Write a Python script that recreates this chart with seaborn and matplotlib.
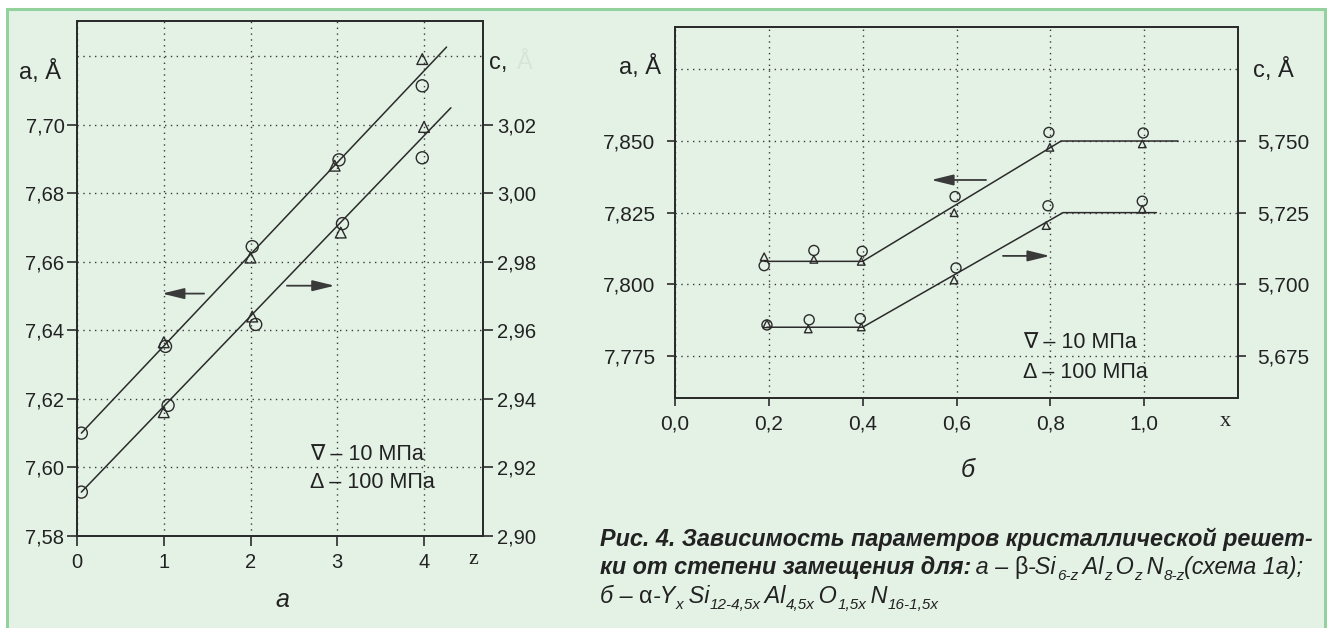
import matplotlib
matplotlib.use("Agg")
import matplotlib.pyplot as plt
import matplotlib.ticker as mticker
from matplotlib.patches import Rectangle
import seaborn as sns

# ---------------- data: chart "а" (β-SiAlON, vs z) ----------------
z_a_circ = [0.05, 1.02, 2.02, 3.02, 3.98]
a_circ_left = [7.610, 7.6353, 7.6644, 7.6897, 7.7113]
z_a_tri = [1.00, 2.00, 2.97, 3.98]
a_tri_left = [7.6365, 7.6612, 7.6880, 7.7191]
z_c_circ = [0.05, 1.05, 2.06, 3.06, 3.98]
c_circ_left = [2.9128, 2.9381, 2.9617, 2.9911, 3.0103]
z_c_tri = [1.00, 2.02, 3.04, 4.00]
c_tri_left = [2.9361, 2.9640, 2.9885, 3.0193]
a_fit_z = [0.05, 4.26]
a_fit_left = [7.610, 7.7226]
c_fit_z = [0.05, 4.31]
c_fit_left = [2.9128, 3.0249]
left_xticks = [0, 1, 2, 3, 4]
left_a_ticks = [7.58, 7.60, 7.62, 7.64, 7.66, 7.68, 7.70]
left_c_ticks = [2.90, 2.92, 2.94, 2.96, 2.98, 3.00, 3.02]

# ---------------- data: chart "б" (α-SiAlON, vs x) ----------------
x_a_circ = [0.19, 0.296, 0.399, 0.597, 0.797, 0.998]
a_circ_right = [7.8065, 7.8118, 7.8115, 7.8306, 7.8530, 7.8528]
x_a_tri = [0.19, 0.296, 0.397, 0.595, 0.799, 0.996]
a_tri_right = [7.8096, 7.8087, 7.8080, 7.8250, 7.8478, 7.8490]
x_c_circ = [0.196, 0.286, 0.395, 0.599, 0.795, 0.996]
c_circ_right = [5.6858, 5.6876, 5.6880, 5.7057, 5.7274, 5.7290]
x_c_tri = [0.196, 0.284, 0.397, 0.595, 0.791, 0.996]
c_tri_right = [5.6862, 5.6844, 5.6851, 5.7015, 5.7205, 5.7262]
a_fit_x = [0.19, 0.40, 0.823, 1.072]
a_fit_right = [7.808, 7.808, 7.850, 7.850]
c_fit_x = [0.196, 0.40, 0.827, 1.026]
c_fit_right = [5.685, 5.685, 5.725, 5.725]
right_xticks = [0.0, 0.2, 0.4, 0.6, 0.8, 1.0]
right_a_ticks = [7.775, 7.800, 7.825, 7.850]
right_c_ticks = [5.675, 5.700, 5.725, 5.750]

W, H = 1327, 628
PANEL = "#e4f2e6"
BORDER = "#93d19d"
DARK = "#2b2b2b"
FONT = ["Liberation Sans", "DejaVu Sans"]
SERIF = ["Liberation Serif", "DejaVu Serif"]

sns.set_theme(style="white")
plt.rcParams["font.family"] = FONT
plt.rcParams["axes.unicode_minus"] = False

fig = plt.figure(figsize=(W / 100, H / 100), dpi=100)
fig.patch.set_facecolor("white")
fig.patches.append(Rectangle((7 / W, -0.05), (1325 - 7) / W, 1 - 9 / H + 0.05,
                             transform=fig.transFigure, facecolor=PANEL,
                             edgecolor=BORDER, lw=2.2, zorder=-5))


def px(x, y):
    return x / W, 1 - y / H


def comma(dec):
    return mticker.FuncFormatter(lambda v, p: f"{v:.{dec}f}".replace(".", ","))


def style_axes(ax):
    ax.set_facecolor("none")
    for s in ax.spines.values():
        s.set_color(DARK)
        s.set_linewidth(1.3)
        s.set_visible(True)


def pts(ax, x, y, marker, s):
    sns.scatterplot(x=x, y=y, ax=ax, marker=marker, s=s, facecolors="none",
                    edgecolor=DARK, color=DARK, linewidth=1.0, zorder=4)


def fit(ax, x, y):
    sns.lineplot(x=x, y=y, ax=ax, color=DARK, lw=1.1, sort=False,
                 estimator=None, zorder=3)


def arrow(ax, x0, x1, y):
    ax.annotate("", xy=(x1, y), xytext=(x0, y),
                arrowprops=dict(arrowstyle="-|>,head_length=0.9,head_width=0.22",
                                mutation_scale=15, lw=1.3, color="#3a3a3a",
                                shrinkA=0, shrinkB=0))


grid_kw = dict(color="#3a3a3a", linestyle=(0, (1, 3.2)), lw=1.0)

# =================== chart а ===================
ax1 = fig.add_axes([77 / W, 1 - 536 / H, (483 - 77) / W, (536 - 21) / H])
style_axes(ax1)
ax1.set_xlim(0, 4.68)
ax1.set_ylim(7.58, 7.7302)
ax1.set_xticks(left_xticks)
ax1.set_yticks(left_a_ticks)
ax1.set_yticks([7.72], minor=True)
ax1.yaxis.set_major_formatter(comma(2))
ax1.grid(True, which="major", **grid_kw)
ax1.grid(True, which="minor", axis="y", **grid_kw)
ax1.tick_params(which="major", direction="out", length=7, width=1.2, color=DARK,
                labelsize=14.5, labelcolor="#222", pad=2, left=True, bottom=True)
ax1.tick_params(axis="x", pad=5)
ax1.tick_params(which="minor", length=0)
ax1.set_axisbelow(True)

ax1r = ax1.twinx()
style_axes(ax1r)
ax1r.set_ylim(2.90, 3.0502)
ax1r.set_yticks(left_c_ticks)
ax1r.yaxis.set_major_formatter(comma(2))
ax1r.grid(False)
ax1r.tick_params(direction="out", length=7, width=1.2, color=DARK, labelsize=14.5,
                 labelcolor="#222", pad=3, right=True)

fit(ax1, a_fit_z, a_fit_left)
fit(ax1r, c_fit_z, c_fit_left)
pts(ax1, z_a_circ, a_circ_left, "o", 75)
pts(ax1, z_a_tri, a_tri_left, "^", 60)
pts(ax1r, z_c_circ, c_circ_left, "o", 75)
pts(ax1r, z_c_tri, c_tri_left, "^", 60)
arrow(ax1, 1.465, 0.98, 7.6507)
arrow(ax1, 2.42, 2.97, 7.6530)
for a in (ax1, ax1r):
    a.set_xlabel("")
    a.set_ylabel("")

# =================== chart б ===================
ax2 = fig.add_axes([675 / W, 1 - 398 / H, (1238 - 675) / W, (398 - 27) / H])
style_axes(ax2)
ax2.set_xlim(0, 1.2)
ax2.set_ylim(7.7603, 7.8898)
ax2.set_xticks(right_xticks)
ax2.set_yticks(right_a_ticks)
ax2.set_yticks([7.875], minor=True)
ax2.xaxis.set_major_formatter(comma(1))
ax2.yaxis.set_major_formatter(comma(3))
ax2.grid(True, which="major", **grid_kw)
ax2.grid(True, which="minor", axis="y", **grid_kw)
ax2.tick_params(which="major", direction="out", length=6, width=1.2, color=DARK,
                labelsize=15, labelcolor="#222", pad=8, left=True, bottom=True)
ax2.tick_params(axis="x", pad=6)
ax2.tick_params(which="minor", length=0)
ax2.set_axisbelow(True)

ax2r = ax2.twinx()
style_axes(ax2r)
ax2r.set_ylim(5.6603, 5.7898)
ax2r.set_yticks(right_c_ticks)
ax2r.yaxis.set_major_formatter(comma(3))
ax2r.grid(False)
ax2r.tick_params(direction="out", length=6, width=1.2, color=DARK, labelsize=15,
                 labelcolor="#222", pad=8, right=True)

fit(ax2, a_fit_x, a_fit_right)
fit(ax2r, c_fit_x, c_fit_right)
pts(ax2, x_a_circ, a_circ_right, "o", 52)
pts(ax2, x_a_tri, a_tri_right, "^", 30)
pts(ax2r, x_c_circ, c_circ_right, "o", 52)
pts(ax2r, x_c_tri, c_tri_right, "^", 30)
arrow(ax2, 0.663, 0.546, 7.8364)
arrow(ax2, 0.699, 0.799, 7.8099)
for a in (ax2, ax2r):
    a.set_xlabel("")
    a.set_ylabel("")

# =================== labels ===================
def t(x, y, s, **kw):
    kw.setdefault("color", "#222")
    kw.setdefault("family", FONT)
    fig.text(*px(x, y), s, **kw)

t(40, 72, "a, Å", fontsize=17, ha="center", va="center")
t(498, 63, "c,", fontsize=17, ha="center", va="center")
t(525, 63, "Å", fontsize=17, ha="center", va="center", color="#d5e6d8")
t(473, 560, "z", fontsize=16, ha="center", va="center", family=SERIF)
t(310, 454, "∇ – 10 МПа", fontsize=15.5, ha="left", va="center")
t(310, 483, "Δ – 100 МПа", fontsize=15.5, ha="left", va="center")
t(282, 600, "a", fontsize=18, ha="center", va="center", style="italic")

t(640, 67, "a, Å", fontsize=17, ha="center", va="center")
t(1273, 70, "c, Å", fontsize=17, ha="center", va="center")
t(1225, 421, "x", fontsize=16, ha="center", va="center", family=SERIF)
t(1023, 343, "∇ – 10 МПа", fontsize=15.5, ha="left", va="center")
t(1023, 372, "Δ – 100 МПа", fontsize=15.5, ha="left", va="center")
t(968, 470, "б", fontsize=18, ha="center", va="center", style="italic")

# =================== caption ===================
fig.canvas.draw()
renderer = fig.canvas.get_renderer()
CAP = 16.8
SUB = 11


def rich(x0, y0, pieces):
    x = x0
    for txt, size, style, weight, dy in pieces:
        tt = fig.text(*px(x, y0 + dy), txt, fontsize=size, style=style,
                      weight=weight, family=FONT, color="#222",
                      ha="left", va="baseline")
        x += tt.get_window_extent(renderer).width


rich(600, 546, [("Рис. 4. Зависимость параметров кристаллической решет-",
                 CAP, "italic", "bold", 0)])
rich(600, 574, [
    ("ки от степени замещения для:", CAP, "italic", "bold", 0),
    ("\u2009a – ", CAP, "italic", "normal", 0),
    ("β", CAP, "normal", "normal", 0),
    ("-Si", CAP, "italic", "normal", 0),
    ("6-z", SUB, "italic", "normal", 6),
    ("\u2009Al", CAP, "italic", "normal", 0),
    ("z", SUB, "italic", "normal", 6),
    ("\u2009O", CAP, "italic", "normal", 0),
    ("z", SUB, "italic", "normal", 6),
    ("\u2009N", CAP, "italic", "normal", 0),
    ("8-z", SUB, "italic", "normal", 6),
    ("(схема 1а);", CAP, "italic", "normal", 0),
])
rich(600, 603, [
    ("б – ", CAP, "italic", "normal", 0),
    ("α", CAP, "normal", "normal", 0),
    ("-Y", CAP, "italic", "normal", 0),
    ("x", SUB, "italic", "normal", 6),
    ("\u2009Si", CAP, "italic", "normal", 0),
    ("12-4,5x", SUB, "italic", "normal", 6),
    ("\u2009Al", CAP, "italic", "normal", 0),
    ("4,5x", SUB, "italic", "normal", 6),
    ("\u2009O", CAP, "italic", "normal", 0),
    ("1,5x", SUB, "italic", "normal", 6),
    ("\u2009N", CAP, "italic", "normal", 0),
    ("16-1,5x", SUB, "italic", "normal", 6),
])

fig.savefig("out.png", dpi=100, facecolor="white")
